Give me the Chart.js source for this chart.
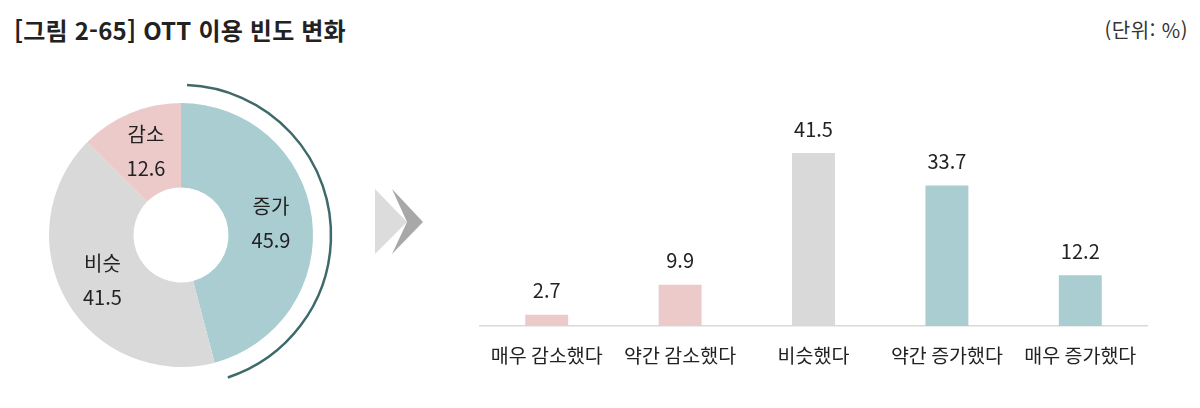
<!DOCTYPE html>
<html lang="ko">
<head>
<meta charset="utf-8">
<script src="https://cdn.jsdelivr.net/npm/chart.js@4"></script>
<style>
    body {
        margin: 0;
        width: 1200px;
        height: 408px;
        background: #ffffff;
        font-family: "Noto Sans CJK KR", "Noto Sans", sans-serif;
        position: relative;
        overflow: hidden;
    }
    #title {
        position: absolute;
        left: 14px;
        top: 12px;
        font-size: 24px;
        font-weight: 700;
        color: #222;
        letter-spacing: 0.2px;
    }
    #unit {
        position: absolute;
        right: 12px;
        top: 15px;
        font-size: 20px;
        color: #333;
        letter-spacing: 0.5px;
    }
    #donutBox { position: absolute; left: 11px; top: 65px; width: 340px; height: 340px; }
    #barBox { position: absolute; left: 470px; top: 100px; width: 690px; height: 290px; }
    #arrow { position: absolute; left: 370px; top: 185px; }
</style>
</head>
<body>
<div id="title">[그림 2-65] OTT 이용 빈도 변화</div>
<div id="unit">(단위: %)</div>

<div id="donutBox"><canvas id="chart1"></canvas></div>
<canvas id="arrow" width="60" height="75"></canvas>
<div id="barBox"><canvas id="chart2"></canvas></div>

<script>
// doughnut data
donutLabels = ['증가', '비슷', '감소'];
donutValues = [45.9, 41.5, 12.6];
donutColors = ['#a9cdd1', '#d9d9d9', '#eccaca'];

// bar data
barLabels = ['매우 감소했다', '약간 감소했다', '비슷했다', '약간 증가했다', '매우 증가했다'];
barValues = [2.7, 9.9, 41.5, 33.7, 12.2];
barColors = ['#eccaca', '#eccaca', '#d9d9d9', '#a9cdd1', '#a9cdd1'];

const fontFamily = '"Noto Sans CJK KR", "Noto Sans", sans-serif';

// labels inside the slices + the bracket arc around the "증가" slice
const donutPlugin = {
    id: 'donutPlugin',
    afterDatasetsDraw(chart) {
        const ctx = chart.ctx;
        const arcs = chart.getDatasetMeta(0).data;
        ctx.save();
        ctx.fillStyle = '#222';
        ctx.textAlign = 'center';
        ctx.textBaseline = 'middle';
        ctx.font = '20px ' + fontFamily;
        arcs.forEach(function (arc, i) {
            const mid = (arc.startAngle + arc.endAngle) / 2;
            const r = (arc.innerRadius + arc.outerRadius) / 2 + 1;
            const cx = arc.x + Math.cos(mid) * r;
            const cy = arc.y + Math.sin(mid) * r;
            ctx.fillText(donutLabels[i], cx, cy - 17);
            ctx.fillText(donutValues[i].toFixed(1), cx, cy + 17);
        });

        // outer bracket for the first slice
        const a = arcs[0];
        ctx.strokeStyle = '#3f6a6a';
        ctx.lineWidth = 2.5;
        ctx.beginPath();
        ctx.arc(a.x, a.y, a.outerRadius + 18, a.startAngle + 0.04, a.endAngle - 0.06);
        ctx.stroke();
        ctx.restore();
    }
};

const donut = new Chart(document.getElementById('chart1'), {
    type: 'doughnut',
    data: {
        labels: donutLabels,
        datasets: [{
            data: donutValues,
            backgroundColor: donutColors,
            borderWidth: 0
        }]
    },
    options: {
        responsive: true,
        maintainAspectRatio: false,
        animation: false,
        cutout: '36%',
        layout: { padding: 38 },
        plugins: {
            legend: { display: false },
            tooltip: { enabled: false }
        }
    },
    plugins: [donutPlugin]
});

// value labels above the bars
const barLabelPlugin = {
    id: 'barLabelPlugin',
    afterDatasetsDraw(chart) {
        const ctx = chart.ctx;
        ctx.save();
        ctx.fillStyle = '#222';
        ctx.textAlign = 'center';
        ctx.textBaseline = 'middle';
        ctx.font = '20px ' + fontFamily;
        chart.getDatasetMeta(0).data.forEach(function (bar, i) {
            ctx.fillText(barValues[i].toFixed(1), bar.x, bar.y - 24);
        });
        ctx.restore();
    }
};

const bars = new Chart(document.getElementById('chart2'), {
    type: 'bar',
    data: {
        labels: barLabels,
        datasets: [{
            data: barValues,
            backgroundColor: barColors,
            borderWidth: 0,
            categoryPercentage: 1,
            barPercentage: 0.322
        }]
    },
    options: {
        responsive: true,
        maintainAspectRatio: false,
        animation: false,
        layout: { padding: { left: 10, right: 13, top: 17.6, bottom: 14 } },
        scales: {
            y: {
                display: false,
                min: 0,
                max: 50
            },
            x: {
                grid: { display: false, drawTicks: false },
                border: { display: true, color: '#d9d9d9', width: 1.5 },
                ticks: {
                    color: '#222',
                    padding: 18,
                    font: { family: fontFamily, size: 19.5 }
                },
                afterFit: function (scale) { scale.height = 50; }
            }
        },
        plugins: {
            legend: { display: false },
            tooltip: { enabled: false }
        }
    },
    plugins: [barLabelPlugin]
});

// double chevron between the two charts
(function drawArrow() {
    const ctx = document.getElementById('arrow').getContext('2d');
    ctx.fillStyle = '#dcdcdc';
    ctx.beginPath();
    ctx.moveTo(5, 4);
    ctx.lineTo(37, 37);
    ctx.lineTo(5, 69);
    ctx.closePath();
    ctx.fill();
    ctx.fillStyle = '#a8a8a8';
    ctx.beginPath();
    ctx.moveTo(22, 4);
    ctx.lineTo(53, 37);
    ctx.lineTo(22, 69);
    ctx.lineTo(37, 37);
    ctx.closePath();
    ctx.fill();
})();
</script>
</body>
</html>
